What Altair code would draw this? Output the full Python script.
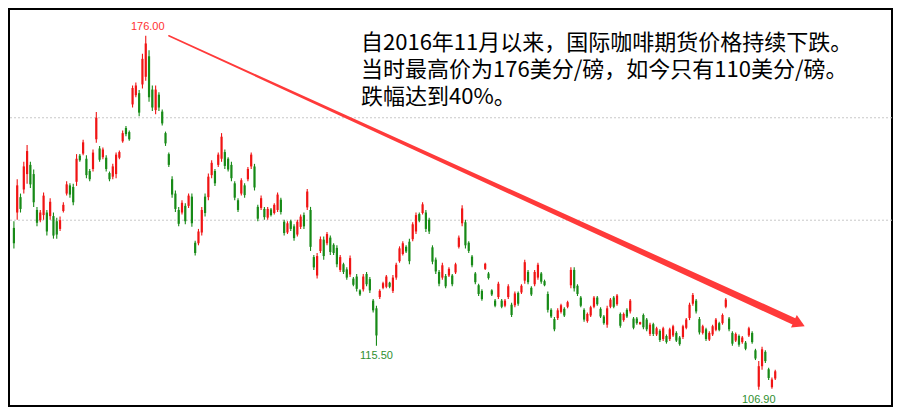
import altair as alt
import pandas as pd

# ---- candle data (US cents / lb), one entry per session ----
high = [139.8,148.0,145.2,151.4,154.7,151.4,149.9,142.6,142.0,145.4,142.0,144.3,141.5,140.5,140.7,143.5,147.6,147.2,147.1,152.9,
        152.9,155.7,152.7,150.0,153.8,161.1,154.5,154.2,152.7,149.5,151.0,153.2,153.6,157.5,158.4,157.5,166.3,166.9,165.4,172.5,
        176.0,173.2,166.3,166.3,165.0,161.6,157.3,153.2,148.6,145.8,142.6,143.9,143.3,145.2,145.2,136.0,138.3,142.6,145.2,149.1,
        151.7,150.0,153.2,157.0,153.8,152.3,151.4,147.6,144.3,148.2,147.2,150.4,153.2,151.0,143.0,144.8,142.6,142.6,142.4,143.3,
        145.4,144.4,140.1,139.8,140.1,139.2,140.1,141.1,141.5,146.1,142.6,133.2,133.6,136.8,136.8,137.7,137.0,135.5,135.1,133.2,
        131.7,130.8,133.1,128.9,129.5,126.5,129.5,129.9,128.9,124.6,123.3,126.5,128.0,129.3,128.0,129.3,131.7,134.9,135.9,135.1,
        136.4,139.6,141.5,141.5,143.5,142.0,140.5,135.1,132.7,130.3,131.7,129.5,130.8,129.5,131.7,137.0,142.9,140.1,135.9,133.2,
        129.9,127.6,126.5,131.7,129.9,126.5,124.6,128.0,124.6,124.6,127.5,123.9,126.1,126.1,127.5,132.3,130.3,127.1,130.3,131.7,
        129.9,128.4,126.1,122.8,121.1,122.8,123.7,123.0,124.3,130.8,130.8,127.5,125.2,122.8,122.0,123.3,125.2,125.2,123.0,121.5,
        123.3,124.8,125.2,125.6,122.0,122.0,122.8,124.6,121.1,121.1,120.2,121.8,120.9,120.0,120.0,119.2,118.7,119.2,117.7,119.0,
        119.6,118.3,117.4,119.6,120.9,123.9,125.8,124.6,121.1,119.6,119.0,118.3,119.6,120.9,120.2,121.8,124.8,121.1,118.3,118.1,
        117.7,117.4,116.4,119.2,118.3,114.9,112.5,115.3,114.6,111.2,109.3,110.8]
low = [134.5,140.1,141.5,145.2,147.1,146.3,142.6,138.8,139.6,140.1,137.0,140.1,136.4,136.4,137.9,141.5,144.8,144.4,142.9,146.7,
       151.4,152.7,148.2,147.6,149.5,155.1,151.4,151.9,149.5,147.6,148.0,148.2,151.9,155.1,156.4,155.5,162.0,164.0,160.3,165.7,
       167.2,163.1,161.3,160.7,161.3,158.5,154.5,150.4,144.4,141.6,138.8,141.1,139.2,142.4,138.7,133.1,135.1,137.0,140.7,143.9,
       148.2,146.7,150.4,151.4,150.0,149.5,147.6,143.9,141.6,144.8,144.4,147.6,150.0,145.8,139.8,142.0,140.1,140.1,140.7,141.1,
       141.6,141.1,137.0,137.3,137.9,136.0,136.8,138.3,138.3,142.0,134.0,130.3,128.6,133.6,132.3,135.1,133.2,133.2,130.8,129.9,
       129.5,128.4,128.9,127.1,126.1,125.2,126.1,127.1,125.8,122.0,115.5,124.6,126.5,126.7,126.7,125.8,128.4,131.7,133.1,133.6,
       131.4,135.9,137.3,139.6,141.1,137.7,137.3,131.4,129.5,127.1,128.4,126.7,128.9,127.1,129.5,134.5,138.8,134.5,133.6,130.8,
       127.5,125.2,124.3,130.3,128.4,125.2,123.0,124.6,122.8,123.0,124.6,121.1,123.0,123.3,125.6,127.6,127.5,125.2,127.1,128.4,
       127.6,127.1,122.0,120.9,118.3,120.5,121.8,121.1,122.8,126.7,126.1,125.2,123.0,120.2,120.0,121.1,122.8,123.3,120.9,119.6,
       119.0,122.8,122.8,123.3,119.0,120.2,120.9,121.8,118.7,119.6,119.6,118.7,118.3,117.4,117.4,117.4,116.2,116.4,115.9,116.4,
       117.2,116.2,115.5,116.8,118.7,120.5,123.3,121.8,117.7,117.7,116.4,116.4,117.4,118.3,118.3,119.6,122.8,118.3,115.5,116.2,
       115.3,115.9,114.6,117.2,115.9,112.7,106.9,110.8,112.1,108.8,107.1,108.8]
open_ = [138.5,141.5,144.5,146.0,149.0,150.8,149.0,142.0,140.0,141.0,141.5,140.8,140.8,139.8,138.3,141.8,145.2,146.8,146.5,147.5,
         152.6,153.0,152.0,149.6,150.0,155.8,154.0,152.3,152.2,149.2,148.5,149.0,152.2,155.4,158.0,157.2,162.6,164.4,164.8,166.5,
         168.0,172.0,165.5,161.5,164.5,161.2,157.0,152.9,148.0,145.2,142.0,141.5,142.8,142.8,144.6,135.6,135.5,137.6,144.6,144.5,
         148.8,149.6,150.8,152.0,153.3,152.0,150.8,147.2,143.9,145.2,146.8,148.0,150.5,150.5,142.6,142.4,142.2,140.5,142.1,141.4,
         142.0,144.0,139.7,137.6,139.8,138.8,137.2,138.7,141.0,142.5,142.0,132.8,129.2,134.0,136.2,135.5,136.6,135.2,134.6,130.3,
         131.4,130.4,129.4,128.6,129.0,126.3,126.5,129.5,128.5,124.3,122.8,125.0,126.8,127.0,127.8,126.2,128.8,132.0,133.4,134.8,
         135.8,136.3,137.8,141.2,141.4,141.5,140.1,134.7,132.3,129.9,128.8,129.1,129.2,129.2,129.8,134.8,139.4,139.6,135.6,132.9,
         129.6,127.3,126.2,130.5,129.6,126.3,124.3,125.0,124.3,123.3,125.0,123.5,123.4,125.8,125.9,128.2,129.9,126.8,127.5,128.8,
         129.6,128.1,125.6,122.5,120.7,120.9,122.1,122.7,123.1,127.3,130.3,127.2,124.9,122.5,120.3,121.4,123.1,124.9,122.7,121.2,
         119.6,123.1,124.9,123.6,121.7,120.5,122.5,122.2,120.8,120.8,119.7,121.5,120.6,117.8,119.7,117.7,118.4,116.8,117.4,116.8,
         117.5,118.0,117.1,117.2,119.0,120.9,123.7,124.3,120.7,118.0,118.7,116.7,117.7,118.6,119.9,119.9,123.1,120.8,118.0,116.5,
         117.4,116.2,116.1,117.5,118.0,114.6,107.5,111.5,114.3,110.9,107.4,109.1]
close = [135.5,146.8,142.2,150.5,153.5,147.0,143.5,139.5,141.5,144.8,137.8,143.6,137.0,137.2,140.0,143.0,147.0,145.0,143.5,152.0,
         151.7,155.2,148.8,148.0,153.2,160.0,151.8,153.8,150.0,148.0,150.5,152.8,153.3,157.0,156.8,155.8,165.8,166.3,161.0,171.5,
         174.5,164.0,162.0,165.5,162.0,158.9,155.0,150.8,145.0,142.2,139.3,143.4,139.8,144.8,139.4,133.6,137.8,142.0,141.4,148.5,
         151.2,147.2,152.8,156.3,150.6,149.9,148.2,144.4,142.0,147.8,144.9,150.0,152.8,146.4,140.3,144.3,140.6,142.2,141.0,143.0,
         145.0,141.6,137.5,139.4,138.3,136.5,139.7,140.7,138.8,145.6,134.8,130.8,133.0,136.3,133.0,137.3,133.8,133.6,131.4,132.8,
         129.9,128.8,132.6,127.4,126.6,125.5,129.0,127.5,126.3,122.4,117.5,126.2,127.7,129.0,127.0,128.8,131.3,134.5,135.5,133.9,
         132.0,139.2,141.0,139.9,143.1,138.3,137.8,131.9,130.0,127.6,131.2,127.1,130.5,127.5,131.4,136.6,142.3,135.1,134.0,131.2,
         127.9,125.6,124.6,131.5,128.7,125.5,123.3,127.6,123.1,124.3,127.1,121.5,125.7,123.7,127.2,131.8,127.9,125.5,129.9,131.3,
         128.0,127.3,122.5,121.2,118.7,122.4,123.4,121.4,124.0,130.3,126.7,125.6,123.3,120.6,121.7,123.0,124.9,123.6,121.2,119.9,
         122.8,124.5,123.1,125.3,119.4,121.7,121.2,124.3,119.0,119.9,120.1,119.1,118.7,119.6,117.8,118.9,116.6,118.9,116.2,118.7,
         119.3,116.5,115.8,119.3,120.6,123.5,125.4,122.2,118.1,119.3,116.8,118.0,119.3,120.6,118.6,121.5,124.5,118.7,115.9,117.8,
         115.7,117.1,114.9,118.9,116.2,113.0,111.5,114.8,112.5,109.2,108.9,110.5]

grid_prices = [140, 160]
peak_idx = [40]
peak_price = [176.0]
trough_idx = [110, 226]
trough_price = [115.5, 106.9]
arrow_idx = [47.0, 236.5]
arrow_price = [176.0, 120.3]
arrow_w = [0, 1]
head_idx = [238.3]
head_price = [119.8]
note_lines = ["自2016年11月以来，国际咖啡期货价格持续下跌。",
              "当时最高价为176美分/磅，如今只有110美分/磅。",
              "跌幅达到40%。"]

df = pd.DataFrame({"idx": list(range(len(high))), "open": open_, "high": high,
                   "low": low, "close": close})

RED = "#f01414"
GREEN = "#178a17"
ARROW = "#ff3a3a"

xs = alt.Scale(domain=[-1.49, 266.43], nice=False, zero=False)
ys = alt.Scale(domain=[103.73, 181.23], nice=False, zero=False)
X = alt.X("idx:Q", scale=xs, axis=None)

col = alt.condition(alt.datum.close >= alt.datum.open, alt.value(RED), alt.value(GREEN))

grid = alt.Chart(pd.DataFrame({"p": grid_prices})).mark_rule(
    color="#c8c8c8", strokeDash=[2, 2], strokeWidth=1
).encode(y=alt.Y("p:Q", scale=ys, axis=None))

wick = alt.Chart(df).mark_rule(strokeWidth=1.1).encode(
    x=X, y=alt.Y("low:Q", scale=ys, axis=None), y2="high:Q", color=col)

body = alt.Chart(df).mark_rule(strokeWidth=2.2).encode(
    x=X, y=alt.Y("open:Q", scale=ys, axis=None), y2="close:Q", color=col)

trail = alt.Chart(pd.DataFrame({"idx": arrow_idx, "price": arrow_price, "w": arrow_w})).mark_trail(
    color=ARROW
).encode(
    x=X, y=alt.Y("price:Q", scale=ys, axis=None),
    size=alt.Size("w:Q", scale=alt.Scale(domain=[0, 1], range=[1.5, 7]), legend=None),
    order="w:Q")

head = alt.Chart(pd.DataFrame({"idx": head_idx, "price": head_price})).mark_point(
    shape="triangle-right", filled=True, color=ARROW, opacity=1, size=190, angle=25
).encode(x=X, y=alt.Y("price:Q", scale=ys, axis=None))

peak_lab = alt.Chart(pd.DataFrame({"idx": peak_idx, "price": peak_price})).mark_text(
    font="Liberation Sans", fontSize=11, color="#ff3030", dy=-9, dx=2, baseline="middle"
).encode(x=X, y=alt.Y("price:Q", scale=ys, axis=None), text=alt.Text("price:Q", format=".2f"))

trough_lab = alt.Chart(pd.DataFrame({"idx": trough_idx, "price": trough_price})).mark_text(
    font="Liberation Sans", fontSize=11, color="#2f8f2f", dy=10, baseline="middle"
).encode(x=X, y=alt.Y("price:Q", scale=ys, axis=None), text=alt.Text("price:Q", format=".2f"))

note = alt.Chart(pd.DataFrame({"t": [0]})).mark_text(
    text=note_lines, align="left", baseline="alphabetic", font="Noto Sans CJK SC",
    fontSize=22, lineHeight=27, color="#000000"
).encode(x=alt.value(352), y=alt.value(41))

chart = alt.layer(grid, wick, body, trail, head, peak_lab, trough_lab, note).properties(
    width=883, height=397, padding=1, autosize="none", background="white"
).configure_view(stroke="#000000", strokeWidth=2)

chart.save("out.html", embed_options={"renderer": "svg", "actions": False})
